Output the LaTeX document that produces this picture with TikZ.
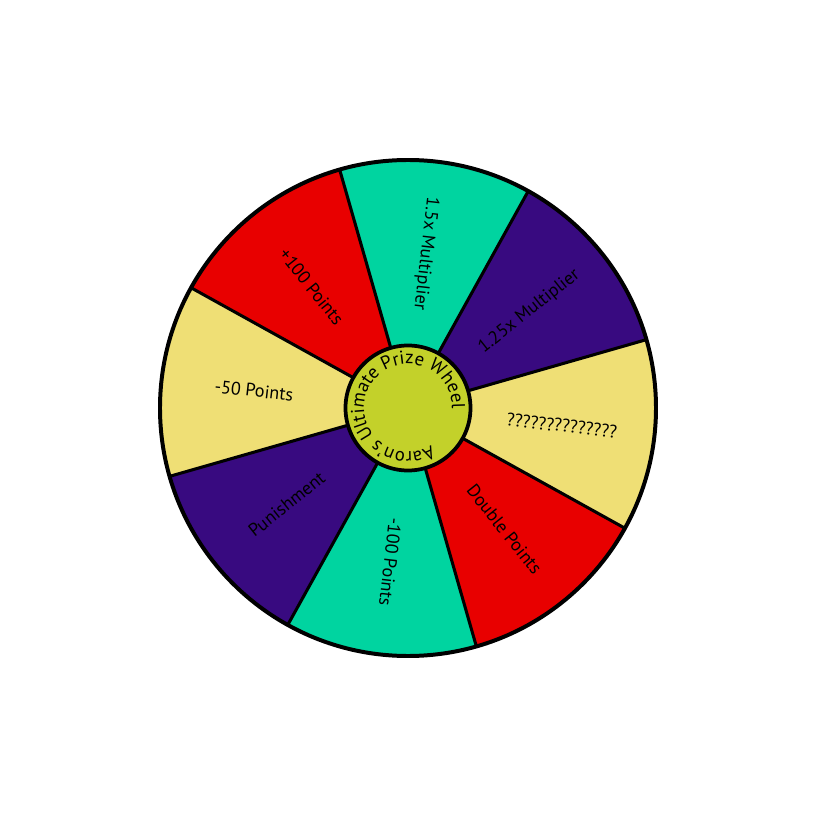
\documentclass[tikz,border=0pt]{standalone}
\usepackage{fontspec}
\setmainfont{PT Sans}
\usepackage{tikz}
\usetikzlibrary{decorations.text}
\definecolor{wheelteal}{RGB}{0,212,160}
\definecolor{wheelred}{RGB}{232,0,0}
\definecolor{wheelpurple}{RGB}{56,10,128}
\definecolor{wheelyellow}{RGB}{239,223,117}
\definecolor{hubgreen}{RGB}{195,209,42}

\begin{document}
\begin{tikzpicture}[
    x=0.03cm, y=0.03cm,
    spoke/.style={line width=2.6pt, black},
    rim/.style={line width=3.4pt, black},
    slicelabel/.style={font=\fontsize{15.5}{18}\selectfont, text=black, inner sep=0pt},
    hub/.style={circle, draw=black, line width=3.2pt, fill=hubgreen, minimum size=3.75cm},
]
    \useasboundingbox (-408,-407) rectangle (407,408);

    % slices, counter-clockwise from the ?? slice
    \foreach \i/\col/\txt/\rot in {
        0/wheelpurple/1.25x Multiplier/38.5,
        1/wheelteal/1.5x Multiplier/-96.5,
        2/wheelred/+100 Points/-51.5,
        3/wheelyellow/-50 Points/-6.5,
        4/wheelpurple/Punishment/38.5,
        5/wheelteal/-100 Points/-96.5,
        6/wheelred/Double Points/-51.5,
        7/wheelyellow/??????????????/-6.5} {
        \pgfmathsetmacro\a{16+45*\i}
        \fill[fill=\col] (0,0) -- (\a:248) arc[start angle=\a, end angle=\a+45, radius=248] -- cycle;
        \node[slicelabel, rotate=\rot] (lbl\i) at (\a+22.5:155) {\txt};
    }

    \foreach \i in {0,...,7}
        \draw[spoke] (0,0) -- ({16+45*\i}:248);
    \draw[rim] (0,0) circle[radius=248];

    \node[hub] (hub) at (0,0) {};
    \path[decorate, decoration={text along path, text align=center,
        text={|\fontsize{16}{18}\selectfont|Aaron's Ultimate Prize Wheel}}]
        (-30:44) arc[start angle=-30, end angle=-390, radius=44];
\end{tikzpicture}
\end{document}
